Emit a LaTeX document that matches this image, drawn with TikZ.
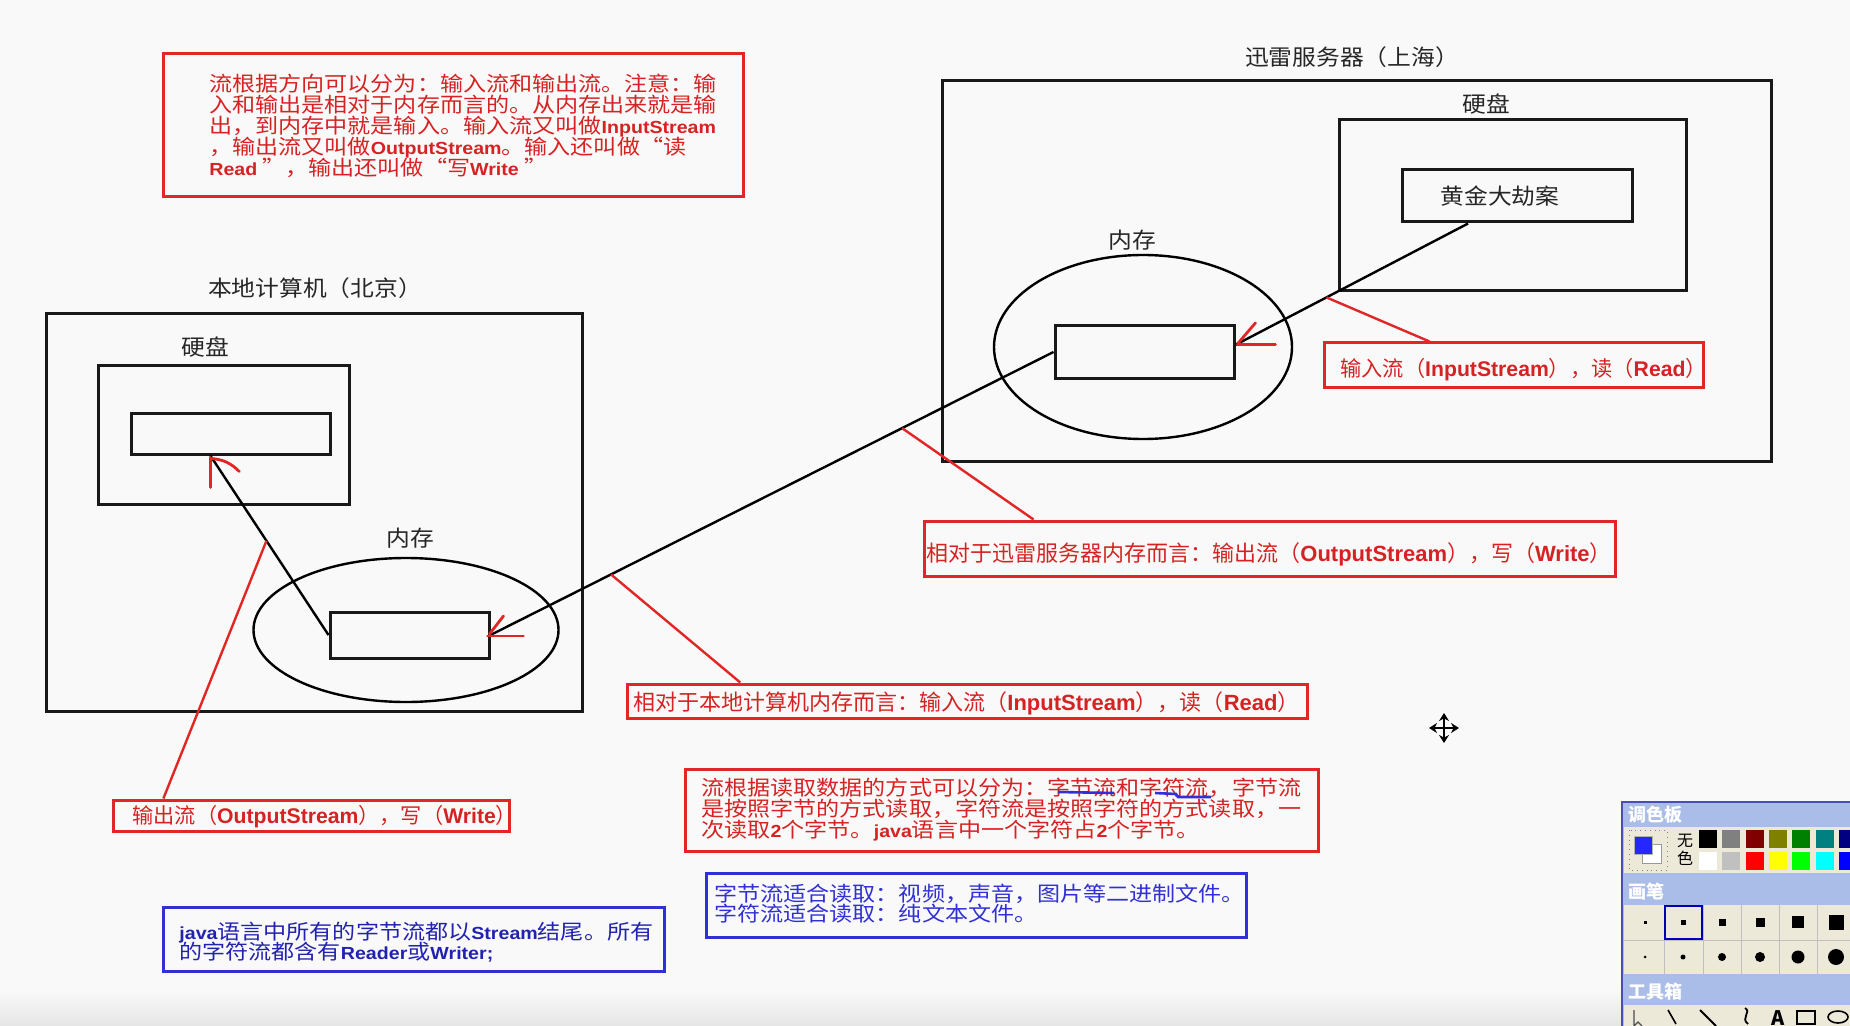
\documentclass[tikz,border=0pt]{standalone}
\usepackage{graphicx}
\usepackage{fontspec}
\setmainfont{Noto Sans CJK SC}
\newfontfamily\lb{Liberation Sans}
\newfontfamily\lbs{Liberation Sans}[Scale=0.85]
\usetikzlibrary{fit,calc,shapes.geometric,arrows.meta}
\definecolor{bg}{RGB}{249,249,249}
\definecolor{rd}{RGB}{214,34,34}
\definecolor{rdb}{RGB}{226,38,38}
\definecolor{bl}{RGB}{48,48,214}
\definecolor{bld}{RGB}{34,34,176}
\definecolor{palbg}{RGB}{170,188,232}
\definecolor{beige}{RGB}{236,233,216}
\definecolor{cA}{RGB}{0,0,0}
\definecolor{cB}{RGB}{128,128,128}
\definecolor{cC}{RGB}{128,0,0}
\definecolor{cD}{RGB}{128,128,0}
\definecolor{cE}{RGB}{0,128,0}
\definecolor{cF}{RGB}{0,128,128}
\definecolor{cG}{RGB}{0,0,128}
\definecolor{cH}{RGB}{255,255,255}
\definecolor{cI}{RGB}{192,192,192}
\definecolor{cJ}{RGB}{255,0,0}
\definecolor{cK}{RGB}{255,255,0}
\definecolor{cL}{RGB}{0,255,0}
\definecolor{cM}{RGB}{0,255,255}
\definecolor{cN}{RGB}{0,0,255}
\newcommand\B[1]{{\lb\bfseries #1}}
\newcommand\Bs[1]{{\lbs\bfseries #1}}
\newcommand\myfs[1]{\fontsize{#1}{#1}\selectfont}
\newcommand\wide[1]{\scalebox{1.12}[1]{#1}}
\newcommand\wt[1]{\scalebox{1.08}[1]{#1}}
\begin{document}
\begin{tikzpicture}[x=0.5pt,y=-0.5pt,
  bbox/.style={draw=black!90, line width=1.5pt, inner sep=0pt},
  rbox/.style={draw=rdb, line width=1.5pt, inner sep=0pt},
  ubox/.style={draw=bl, line width=1.5pt, inner sep=0pt},
  ttl/.style={inner sep=0pt, text=black!85, font=\myfs{11}},
  rline/.style={anchor=base west, inner sep=0pt, text=rd},
  mline/.style={anchor=base west, inner sep=0pt, font=\myfs{10.3}},
  wire/.style={draw=black, line width=1.2pt},
  lead/.style={draw=rdb, line width=1.2pt},
  hand/.style={draw=rdb, line width=1.4pt, line cap=round},
  paltitle/.style={inner sep=0pt, anchor=west, text=white, font=\myfs{9}\bfseries},
]
\useasboundingbox (0,0) rectangle (1850,1026);
\fill[bg] (0,0) rectangle (1850,1026);
\shade[top color=bg, bottom color=black!10] (0,990) rectangle (1622,1026);

% ---------- server ----------
\node[bbox, fit={(942,81) (1771,461)}] (srv) {};
\node[ttl] (srvlbl) at (1352,57) {\wt{迅雷服务器（上海）}};
\node[bbox, fit={(1339,120) (1686,291)}] (sdisk) {};
\node[ttl] (sdisklbl) at (1486,104) {\wt{硬盘}};
\node[bbox, fit={(1402,170) (1632,222)}] (gold) {};
\node[ttl] (goldt) at (1500,196) {\wt{黄金大劫案}};
\node[ellipse, draw=black, line width=1.2pt, minimum width=149pt, minimum height=92pt, inner sep=0pt] (smem) at (1143,347) {};
\node[ttl] (smemlbl) at (1132,240) {\wt{内存}};
\node[bbox, fit={(1055,326) (1234,378)}] (sm) {};

% ---------- local ----------
\node[bbox, fit={(46,314) (582,711)}] (loc) {};
\node[ttl] (loclbl) at (315,288) {\wt{本地计算机（北京）}};
\node[bbox, fit={(98,365) (349,504)}] (ldisk) {};
\node[ttl] (ldisklbl) at (205,347) {\wt{硬盘}};
\node[bbox, fit={(131,413) (330,454)}] (ld) {};
\node[ellipse, draw=black, line width=1.2pt, minimum width=152.5pt, minimum height=72pt, inner sep=0pt] (lmem) at (406,630) {};
\node[ttl] (lmemlbl) at (410,538) {\wt{内存}};
\node[bbox, fit={(330,612) (489,658)}] (lm) {};

% ---------- connectors ----------
\coordinate (goldout) at ($(gold.south west)!0.29!(gold.south east)$);
\coordinate (smin) at ($(sm.north east)!0.37!(sm.south east)$);
\coordinate (ldin) at ($(ld.south west)!0.4!(ld.south east)$);
\draw[wire] (goldout) -- (smin);
\draw[wire] (sm.west) -- (lm.east);
\draw[wire] (lm.west) -- (ldin);

% hand-drawn red arrowheads
\draw[hand] ($(smin)+(20,-22)$) -- ($(smin)+(2,-1)$);
\draw[hand] ($(smin)+(2,0)$) -- ($(smin)+(40,0)$);
\draw[hand] ($(lm.east)+(13,-19)$) -- ($(lm.east)+(-1,-1)$);
\draw[hand] ($(lm.east)+(-3,1)$) -- ($(lm.east)+(33,1)$);
\draw[hand] ($(ldin)+(0,32)$) -- ($(ldin)+(0,2)$);
\draw[hand] ($(ldin)+(1,3)$) to[bend left=20] ($(ldin)+(29,16)$);

% ---------- boxes ----------
\node[rbox, fit={(163,54) (743,197)}] (b1) {};
\node[rbox, fit={(627,684) (1307,718)}] (b2) {};
\node[rbox, fit={(924,521) (1615,576)}] (b3) {};
\node[rbox, fit={(1324,343) (1703,387)}] (b4) {};
\node[rbox, fit={(113,800) (509,831)}] (o1) {};
\node[rbox, fit={(685,769) (1318,851)}] (b5) {};
\node[ubox, fit={(706,873) (1246,937)}] (b6) {};
\node[ubox, fit={(163,907) (664,971)}] (b7) {};

% leaders
\draw[lead] ($(lm.west)!0.525!(ldin)$) -- ($(o1.north west)!0.13!(o1.north east)$);
\draw[lead] ($(sm.west)!0.786!(lm.east)$) -- ($(b2.north west)!0.168!(b2.north east)$);
\draw[lead] ($(sm.west)!0.269!(lm.east)$) -- ($(b3.north west)!0.16!(b3.north east)$);
\draw[lead] ($(goldout)!0.609!(smin)$) -- ($(b4.north west)!0.28!(b4.north east)$);

% ---------- texts ----------
\node[mline, text=rd] (b1a) at (209,92) {\wide{流根据方向可以分为：输入流和输出流。注意：输}};
\node[mline, text=rd] (b1b) at (209,113) {\wide{入和输出是相对于内存而言的。从内存出来就是输}};
\node[mline, text=rd] (b1c) at (209,134) {\wide{出，到内存中就是输入。输入流又叫做\Bs{InputStream}}};
\node[mline, text=rd] (b1d) at (209,155) {\wide{，输出流又叫做\Bs{OutputStream}。输入还叫做“读}};
\node[mline, text=rd] (b1e) at (209,176) {\wide{\Bs{Read} ”，输出还叫做“写\Bs{Write} ”}};

\node[rline, font=\myfs{11}] (b2t) at (633,710) {相对于本地计算机内存而言：输入流（\B{InputStream}），读（\B{Read}）};
\node[rline, font=\myfs{11}] (b3t) at (926,561) {相对于迅雷服务器内存而言：输出流（\B{OutputStream}），写（\B{Write}）};
\node[rline, font=\myfs{10.6}] (b4t) at (1340,376) {输入流（\B{InputStream}），读（\B{Read}）};
\node[rline, font=\myfs{10.6}] (o1t) at (132,823) {输出流（\B{OutputStream}），写（\B{Write}）};

\node[mline, text=rd] (b5a) at (701,795) {\wide{流根据读取数据的方式可以分为：字节流和字符流，字节流}};
\node[mline, text=rd] (b5b) at (701,816) {\wide{是按照字节的方式读取，字符流是按照字符的方式读取，一}};
\node[mline, text=rd] (b5c) at (701,837) {\wide{次读取\Bs{2}个字节。\Bs{java}语言中一个字符占\Bs{2}个字节。}};
\draw[draw=bl, line width=1.3pt] (1058,792) -- (1114,793);
\draw[draw=bl, line width=1.3pt] (1155,793) -- (1176,794) -- (1178,797) -- (1211,797);

\node[mline, text=bl] (b6a) at (714,901) {\wide{字节流适合读取：视频，声音，图片等二进制文件。}};
\node[mline, text=bl] (b6b) at (714,921) {\wide{字符流适合读取：纯文本文件。}};

\node[mline, text=bld] (b7a) at (179,939) {\wide{\Bs{java}语言中所有的字节流都以\Bs{Stream}结尾。所有}};
\node[mline, text=bld] (b7b) at (179,959) {\wide{的字符流都含有\Bs{Reader}或\Bs{Writer;}}};

% ---------- move cursor ----------
\draw[line width=1.3pt, {Stealth[length=4pt,width=5pt]}-{Stealth[length=4pt,width=5pt]}] (1444,713) -- (1444,743);
\draw[line width=1.3pt, {Stealth[length=4pt,width=5pt]}-{Stealth[length=4pt,width=5pt]}] (1429,728) -- (1459,728);

% ---------- paint palette panel ----------
\fill[palbg] (1622,802) rectangle (1850,1026);
\draw[blue!40!gray, line width=0.8pt] (1622,1026) -- (1622,802) -- (1850,802);
\node[paltitle] (pt1) at (1628,815) {调色板};
\fill[beige] (1624,827) rectangle (1850,873);
\draw[gray, dotted] (1629,830) rectangle (1667,870);
\fill[white] (1642,844) rectangle (1661,863);
\draw[black!40] (1642,844) rectangle (1661,863);
\fill[blue!85] (1634,836) rectangle (1652,854);
\draw[black!30] (1634,836) rectangle (1652,854);
\node[inner sep=0pt, align=center, font=\fontsize{8}{9}\selectfont] (wuse) at (1685,850) {无\\色};
\foreach \c [count=\i from 0] in {cA,cB,cC,cD,cE,cF,cG}
  \fill[\c] (1699+\i*23.3,830) rectangle +(18,18);
\foreach \c [count=\i from 0] in {cH,cI,cJ,cK,cL,cM,cN}
  \fill[\c] (1699+\i*23.3,852) rectangle +(18,18);
\node[paltitle] (pt2) at (1628,892) {画笔};
\fill[beige] (1624,905) rectangle (1850,974);
\foreach \xx in {1664,1703,1741,1779,1817} \draw[black!25] (\xx,905) -- (\xx,974);
\draw[black!25] (1624,940) -- (1850,940);
\foreach \cx/\s in {1645/3,1683/5,1722/7,1760/9,1798/12,1836/15}
  \fill[black] (\cx-\s/2,922-\s/2) rectangle +(\s,\s);
\foreach \cx/\s in {1645/3,1683/5,1722/8,1760/10,1798/13,1836/16}
  \fill[black] (\cx,957) circle (\s/2);
\draw[blue!70!black, line width=1pt] (1665,906) rectangle (1702,939);
\node[paltitle] (pt3) at (1628,992) {工具箱};
\fill[beige] (1624,1005) rectangle (1850,1026);
\draw[black!70, line width=0.6pt] (1634,1010) -- (1634,1026) -- (1638,1022) -- (1642,1026);
\draw[black, line width=0.8pt] (1668,1010) -- (1676,1024);
\draw[black, line width=0.9pt] (1700,1010) -- (1716,1026);
\draw[black, line width=0.9pt] (1745,1008) .. controls (1752,1012) and (1740,1018) .. (1748,1024);
\node[inner sep=0pt, font=\myfs{10}\bfseries] (toolA) at (1778,1018) {A};
\draw[black, line width=0.8pt] (1797,1011) rectangle (1815,1024);
\draw[black, line width=0.8pt] (1838,1017) ellipse (10 and 6);
\end{tikzpicture}
\end{document}
